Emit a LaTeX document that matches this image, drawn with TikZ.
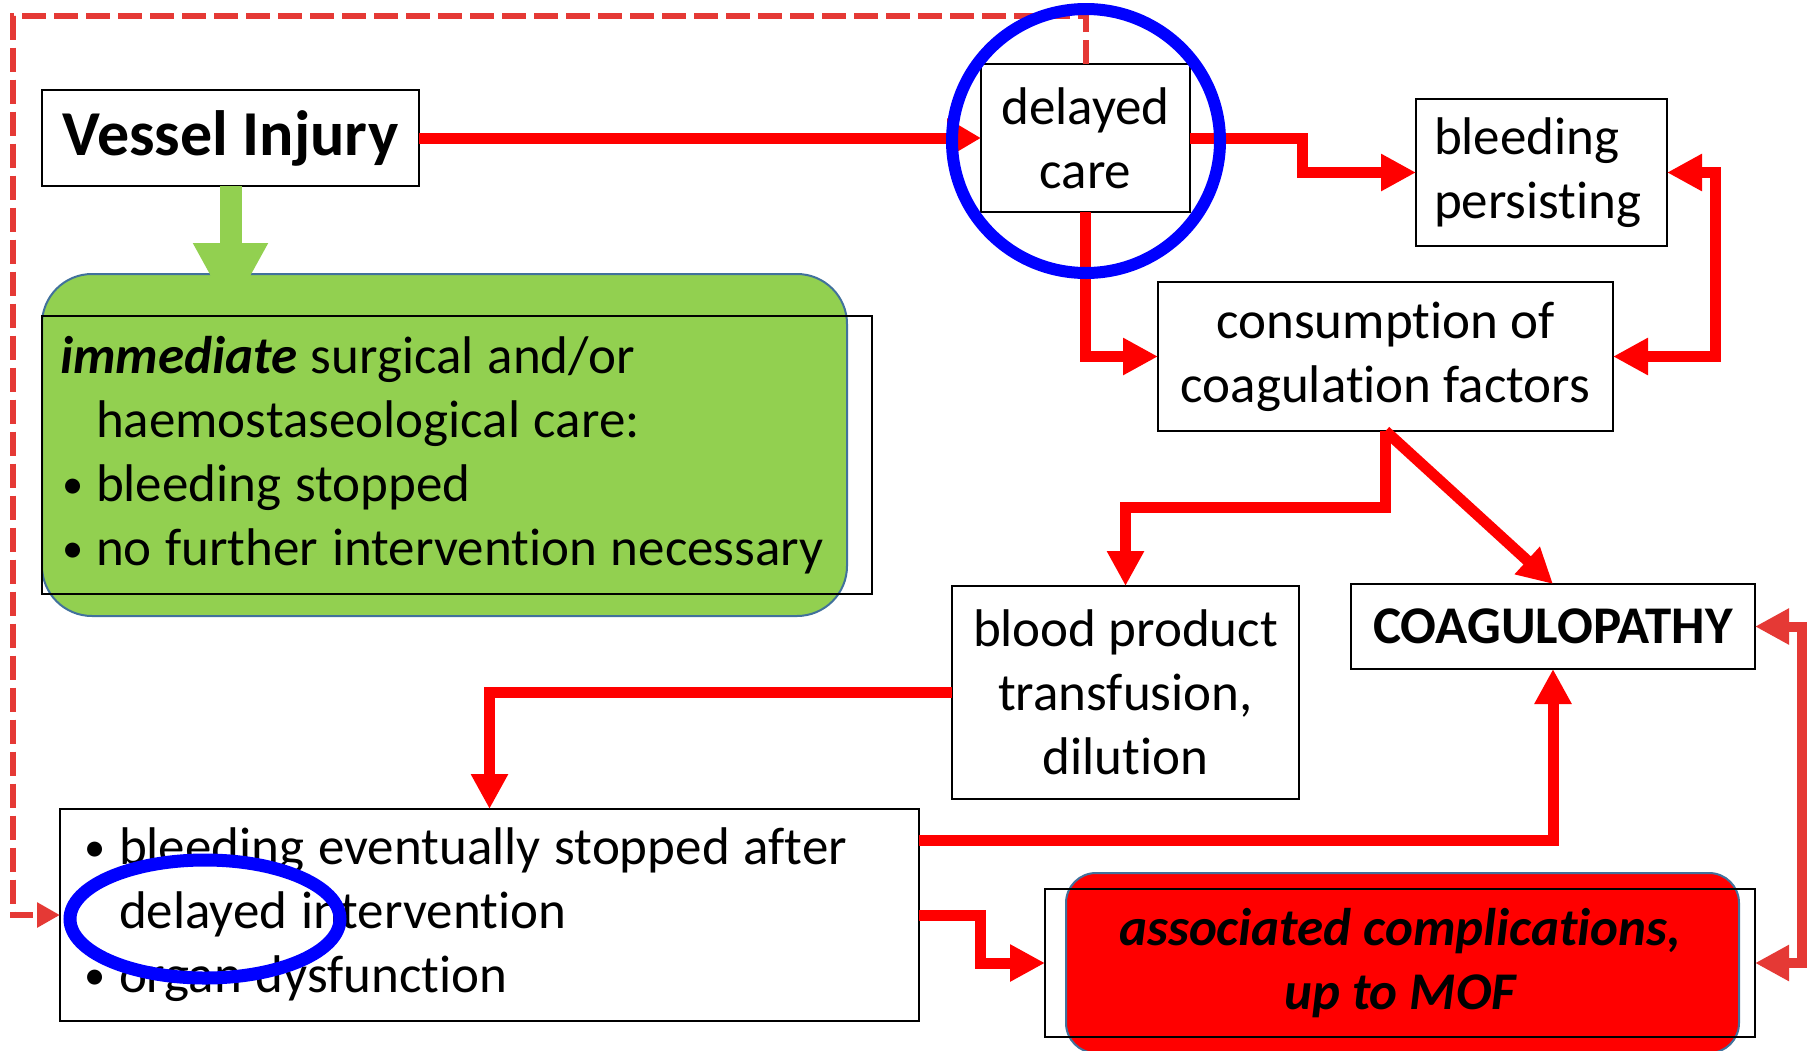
\documentclass[tikz,border=0pt]{standalone}
\usepackage{graphicx}
\usepackage{fontspec}
\setmainfont{Carlito}[Ligatures=NoCommon]
\usetikzlibrary{arrows.meta}
\definecolor{rd}{RGB}{255,0,0}
\definecolor{rdl}{RGB}{229,57,53}
\definecolor{grn}{RGB}{146,208,80}
\definecolor{bordblue}{RGB}{65,113,156}
\definecolor{blu}{RGB}{0,0,255}
\newcommand{\blt}[1]{\makebox[#1][l]{\hspace*{2pt}\raisebox{0.06em}{\scalebox{0.8}{•}}}}
\begin{document}
\begin{tikzpicture}[x=1pt,y=-1pt,
  every node/.style={inner sep=0pt, outer sep=0pt},
  txt/.style={font=\fontsize{53}{64}\selectfont},
  box/.style={draw=black, line width=2pt, fill=white, txt, align=center},
  redarr/.style={draw=rd, line width=11pt, -{Triangle[length=35pt,width=35pt]}},
  reddbl/.style={draw=rd, line width=11pt, {Triangle[length=35pt,width=35pt]}-{Triangle[length=35pt,width=35pt]}},
  ltdbl/.style={draw=rdl, line width=10pt, {Triangle[length=34pt,width=34pt]}-{Triangle[length=34pt,width=34pt]}},
  dasharr/.style={draw=rdl, line width=6pt, dash pattern=on 24pt off 8pt, -{Triangle[length=23pt,width=24pt]}},
  greenarr/.style={draw=grn, line width=22pt, -{Triangle[length=70pt,width=70pt]}},
  ring/.style={draw=blu, line width=12pt}
]
\useasboundingbox[fill=white] (0,0) rectangle (1820,1050);

% green background box
\node[draw=bordblue, line width=2pt, fill=grn, rounded corners=50pt,
      minimum width=805pt, minimum height=342pt] (greenbg) at (444.5,445) {};

% boxes
\node[box, minimum width=377pt, minimum height=96pt,
      font=\fontsize{64}{70}\selectfont\bfseries] (vessel) at (230.5,138) {Vessel Injury};
\node[box, minimum width=209pt, minimum height=148pt] (delayed) at (1085.5,138) {delayed\\care};
\node[box, align=left, text width=215pt, inner xsep=18pt, minimum height=147pt] (bleeding) at (1541.5,172.5) {bleeding\\persisting};
\node[box, minimum width=455pt, minimum height=149pt] (consumption) at (1385.5,356.5) {consumption of\\coagulation factors};
\node[box, minimum width=347pt, minimum height=213pt] (blood) at (1125.5,692.5) {blood product\\transfusion,\\dilution};
\node[box, minimum width=404pt, minimum height=85pt, font=\fontsize{53}{64}\selectfont\bfseries] (coag) at (1553,626.5) {COAGULOPATHY};
\node[box, align=left, text width=815pt, inner xsep=22pt, minimum height=212pt] (eventual) at (489.5,915)
  {\spaceskip=0.26em\relax
   \blt{37pt}bleeding eventually stopped after\\
   \hspace*{37pt}delayed intervention\\
   \blt{37pt}organ dysfunction};

% associated complications
\node[draw=bordblue, line width=2pt, fill=rd, rounded corners=30pt,
      minimum width=673pt, minimum height=180pt] (assocred) at (1402.5,963) {};
\node[draw=black, line width=2pt, minimum width=710pt, minimum height=148pt,
      txt, align=center, font=\fontsize{53}{64}\selectfont\bfseries\itshape] (assoc) at (1400,963)
  {associated complications,\\up to MOF};

% green arrow
\draw[greenarr] (vessel.south) -- ([yshift=-39pt]vessel.south |- greenbg.north);

% immediate care text box
\node[draw=black, line width=2pt, txt, align=left, text width=794pt, inner xsep=18pt,
      minimum height=278pt] (imm) at (457,455)
  {\spaceskip=0.26em\relax
   \textbf{\textit{immediate}} surgical and/or\\
   \hspace*{36pt}haemostaseological care:\\
   \blt{36pt}bleeding stopped\\
   \blt{36pt}no further intervention necessary};

% red connectors
\draw[draw=rd, line width=11pt, -{Triangle[length=34pt,width=37pt]}] (vessel.east) -- (delayed.west);
\draw[redarr] (delayed.east) -- ++(112,0) |- (bleeding.west);
\draw[redarr] (delayed.south) |- (consumption.west);
\draw[reddbl] (bleeding.east) -- ++(48,0) |- (consumption.east);
\draw[redarr] (consumption.south) -- ++(0,76) -| (blood.north);
\draw[redarr] (consumption.south) -- (coag.north);
\draw[redarr] (blood.west) -| (eventual.north);
\draw[redarr] ([yshift=75pt]eventual.east) -| (coag.south);
\draw[redarr] (eventual.east) -- ++(61,0) |- (assoc.west);
\draw[ltdbl] (coag.east) -- ++(47,0) |- (assoc.east);

% dashed feedback
\coordinate (dtop) at (1085.5,16);
\coordinate (dleft) at (13,16);
\draw[dasharr] (delayed.north) -- (dtop) -- (dleft) |- (eventual.west);

% blue highlight rings
\draw[ring] (1086,141) ellipse [x radius=134, y radius=132];
\draw[ring, line width=13pt] (205,919) ellipse [x radius=135, y radius=59];
\end{tikzpicture}
\end{document}
